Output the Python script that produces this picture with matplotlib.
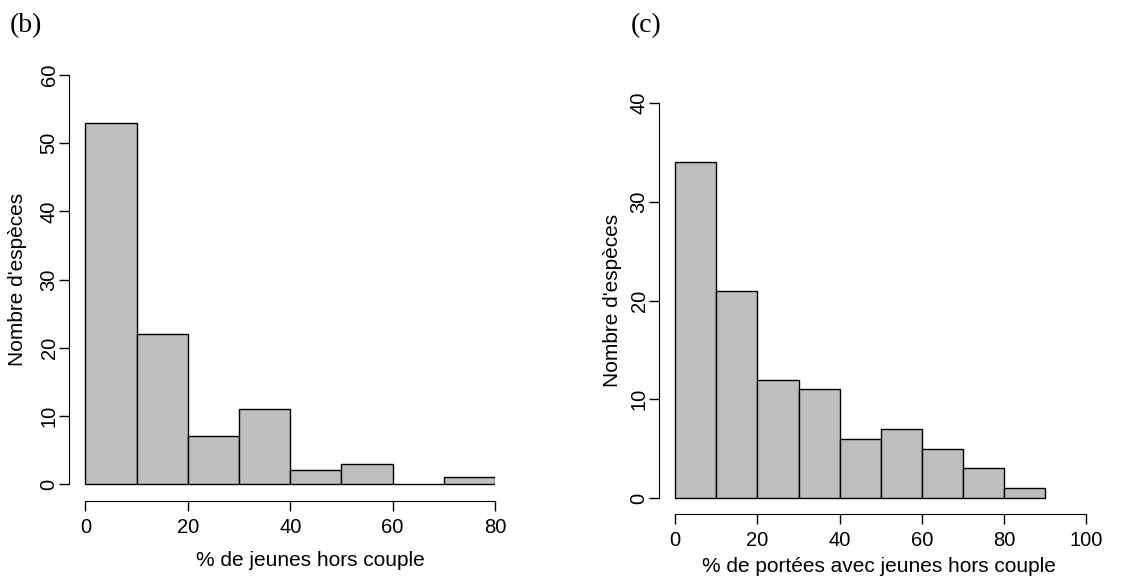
import matplotlib.pyplot as plt
import numpy as np

plt.rcParams['font.family'] = ['Liberation Sans', 'DejaVu Sans']

# panel (b): share of extra-pair young
edges_b = np.arange(0, 90, 10)
counts_b = [53, 22, 7, 11, 2, 3, 0, 1]
xticks_b = [0, 20, 40, 60, 80]
yticks_b = [0, 10, 20, 30, 40, 50, 60]

# panel (c): share of broods with extra-pair young
edges_c = np.arange(0, 100, 10)
counts_c = [34, 21, 12, 11, 6, 7, 5, 3, 1]
xticks_c = [0, 20, 40, 60, 80, 100]
yticks_c = [0, 10, 20, 30, 40]

W, H = 1139, 581
fig = plt.figure(figsize=(W / 100, H / 100), dpi=100)


def r_hist(box, edges, counts, xlim, ylim, xticks, yticks, xlabel, ylabel,
           xlab_pos, ylab_pos):
    x0, y_top, x1, y_bot = box
    ax = fig.add_axes([x0 / W, (H - y_bot) / H, (x1 - x0) / W, (y_bot - y_top) / H])
    ax.bar(edges[:-1], counts, width=np.diff(edges), align='edge',
           color='#bebebe', edgecolor='black', linewidth=1.0)
    ax.set_xlim(xlim)
    ax.set_ylim(ylim)
    for s in ['top', 'right']:
        ax.spines[s].set_visible(False)
    ax.spines['left'].set_bounds(yticks[0], yticks[-1])
    ax.spines['bottom'].set_bounds(xticks[0], xticks[-1])
    ax.set_xticks(xticks)
    ax.set_yticks(yticks)
    ax.set_yticklabels([str(v) for v in yticks], rotation=90, va='center')
    ax.tick_params(axis='both', labelsize=14.5, length=7, width=1)
    ax.tick_params(axis='x', pad=5)
    ax.tick_params(axis='y', pad=0.5)
    ax.set_xlabel(xlabel, fontsize=15, va='center')
    ax.set_ylabel(ylabel, fontsize=15, va='center')
    # label positions given in pixels from the figure's top-left corner
    ax.xaxis.set_label_coords((xlab_pos[0] - x0) / (x1 - x0),
                              (y_bot - xlab_pos[1]) / (y_bot - y_top))
    ax.yaxis.set_label_coords((ylab_pos[0] - x0) / (x1 - x0),
                              (y_bot - ylab_pos[1]) / (y_bot - y_top))
    return ax


r_hist((69, 75, 495, 501), edges_b, counts_b, (-3.22, 80), (-2.49, 60),
       xticks_b, yticks_b, "% de jeunes hors couple", "Nombre d'espèces",
       (310, 560), (18, 279))
r_hist((659, 103, 1086, 514), edges_c, counts_c, (-3.97, 100), (-1.62, 40),
       xticks_c, yticks_c, "% de portées avec jeunes hors couple", "Nombre d'espèces",
       (879, 567), (612, 300))

fig.text(10 / W, 1 - 26 / H, "(b)", family='Liberation Serif', fontsize=20, va='center')
fig.text(631 / W, 1 - 26 / H, "(c)", family='Liberation Serif', fontsize=20, va='center')

fig.savefig('out.png', dpi=100)
